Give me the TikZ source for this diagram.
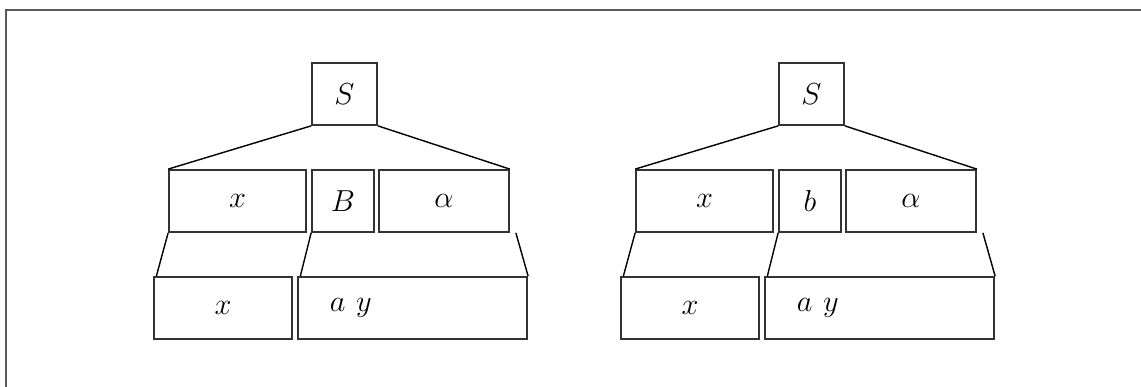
\documentclass[tikz,border=0pt]{standalone}

\begin{document}
\begin{tikzpicture}[
	cell/.style={draw=black!80, line width=1pt, inner sep=0pt, minimum height=1.24cm,
		font=\fontsize{18.5}{22}\selectfont},
	link/.style={line width=0.8pt}]
	\useasboundingbox (0,0) rectangle (22.82,7.74);
	% frame of the page
	\draw[line width=1pt, color=black!65] (0.12,0) |- (22.82,7.54);
	% the two derivation trees, one with B and one with b
	\foreach \side/\dx/\lbl in {l/0/B, r/9.34/b} {
		\begin{scope}[xshift=\dx cm]
			\node[cell, minimum width=1.30cm] (S\side) at (6.89,5.86) {$S$};
			\node[cell, minimum width=2.74cm] (x\side) at (4.75,3.72) {$x$};
			\node[cell, minimum width=1.24cm] (m\side) at (6.86,3.72) {$\lbl$};
			\node[cell, minimum width=2.60cm] (al\side) at (8.88,3.72) {$\alpha$};
			\node[cell, minimum width=2.75cm] (xx\side) at (4.46,1.58) {$x$};
			\node[cell, minimum width=4.59cm, inner xsep=0.64cm, text width=3.31cm, align=left]
				(ay\side) at (8.25,1.58) {$a\ y$};
			\draw[link] (S\side.south west) -- (x\side.north west);
			\draw[link] (S\side.south east) -- (al\side.north east);
			\draw[link] (x\side.south west) -- ([xshift=0.06cm]xx\side.north west);
			\draw[link] (m\side.south west) -- ([xshift=0.07cm]ay\side.north west);
			\draw[link] ([xshift=0.12cm]al\side.south east) -- (ay\side.north east);
		\end{scope}
	}
\end{tikzpicture}
\end{document}
